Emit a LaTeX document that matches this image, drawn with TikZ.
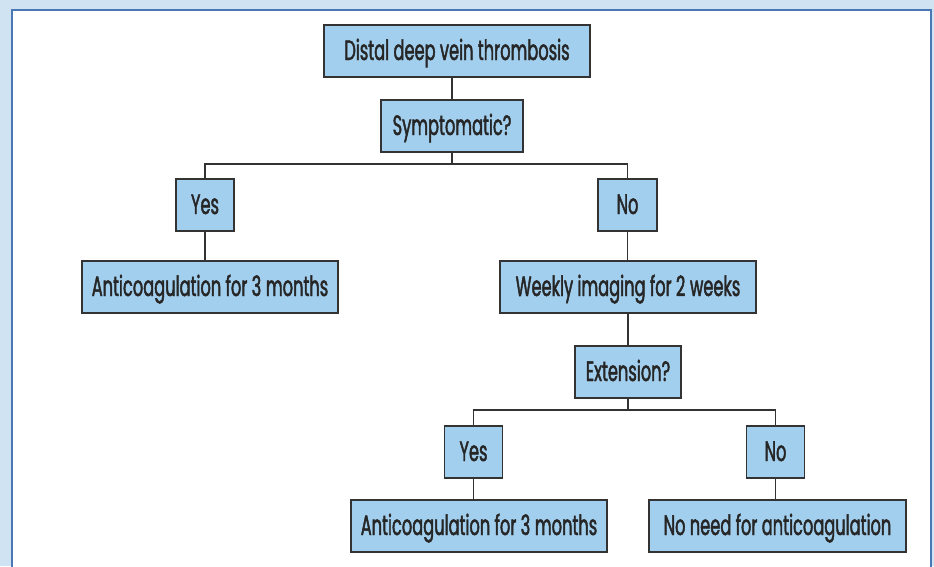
\documentclass[tikz,border=0pt]{standalone}
\usepackage{fontspec}
\setmainfont[FakeStretch=0.58,FakeBold=1.6]{Poppins}
\usetikzlibrary{positioning}

\definecolor{panelbg}{RGB}{207,227,243}
\definecolor{panelline}{RGB}{74,120,180}
\definecolor{boxfill}{RGB}{163,207,238}
\definecolor{boxline}{RGB}{51,51,51}

\tikzset{
  flowbox/.style={draw=boxline, fill=boxfill, line width=1.5pt,
    minimum height=52pt, inner sep=0pt,
    text height=20pt, text depth=2pt,
    font=\fontsize{28}{30}\selectfont, text=black!85},
  link/.style={draw=boxline, line width=1.5pt}
}

\begin{document}
\begin{tikzpicture}[x=1pt,y=-1pt]
	\useasboundingbox (0,0) rectangle (934,566);
	\fill[panelbg] (0,0) rectangle (934,566);
	\filldraw[fill=white, draw=panelline, line width=2pt] (12,10) rectangle (931,580);

	% top of the tree
	\node[flowbox, minimum width=266pt] (dvt) at (457,51) {Distal deep vein thrombosis};
	\node[flowbox, minimum width=142pt] (symp) at (452,126) {Symptomatic?};
	\node[flowbox, minimum width=58pt] (yesa) at (205,205) {Yes};
	\node[flowbox, minimum width=59pt] (noa) at (627.5,205) {No};
	\node[flowbox, minimum width=256pt] (antia) at (210,287) {Anticoagulation for 3\,months};
	\node[flowbox, minimum width=256pt] (weekly) at (628,287) {Weekly imaging for 2\,weeks};

	% second question
	\node[flowbox, minimum width=106pt] (ext) at (628,372) {Extension?};
	\node[flowbox, minimum width=58pt] (yesb) at (473.5,452) {Yes};
	\node[flowbox, minimum width=58pt] (nob) at (775.5,452) {No};
	\node[flowbox, minimum width=256pt] (antib) at (479,526) {Anticoagulation for 3\,months};
	\node[flowbox, minimum width=257pt] (noneed) at (777.5,526) {No need for anticoagulation};

	\coordinate (forka) at (452,164);
	\coordinate (forkb) at (628,410);

	\draw[link] (symp.north) -- (symp.north |- dvt.south);
	\draw[link] (symp) -- (forka);
	\draw[link] (yesa.north) |- (forka) -| (noa.north);
	\draw[link] (yesa.south) -- (yesa.south |- antia.north);
	\draw[link] (noa.south) -- (noa.south |- weekly.north);
	\draw[link] (weekly.south) -- (weekly.south |- ext.north);
	\draw[link] (ext.south) -- (forkb);
	\draw[link] (yesb.north) |- (forkb) -| (nob.north);
	\draw[link] (yesb.south) -- (yesb.south |- antib.north);
	\draw[link] (nob.south) -- (nob.south |- noneed.north);
\end{tikzpicture}
\end{document}
